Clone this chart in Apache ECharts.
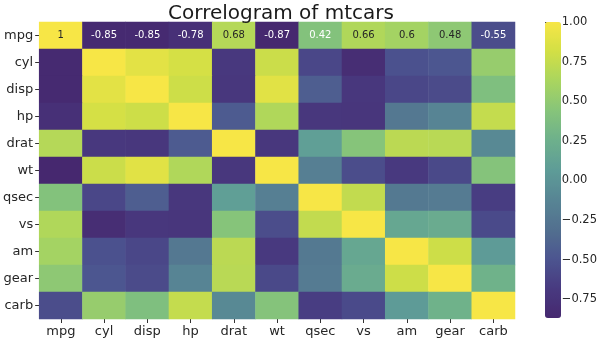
<!DOCTYPE html>
<html><head><meta charset="utf-8">
<script src="https://cdn.jsdelivr.net/npm/echarts@6/dist/echarts.min.js"></script>
<style>html,body{margin:0;padding:0;background:#fff}#c{width:600px;height:340px}</style>
</head><body><div id="c"></div>
<script>
var variables = ['mpg','cyl','disp','hp','drat','wt','qsec','vs','am','gear','carb'];
var corrMatrix = [
  [ 1.00,-0.85,-0.85,-0.78, 0.68,-0.87, 0.42, 0.66, 0.60, 0.48,-0.55],
  [-0.85, 1.00, 0.90, 0.83,-0.70, 0.78,-0.59,-0.81,-0.52,-0.49, 0.53],
  [-0.85, 0.90, 1.00, 0.79,-0.71, 0.89,-0.43,-0.71,-0.59,-0.56, 0.39],
  [-0.78, 0.83, 0.79, 1.00,-0.45, 0.66,-0.71,-0.72,-0.24,-0.13, 0.75],
  [ 0.68,-0.70,-0.71,-0.45, 1.00,-0.71, 0.09, 0.44, 0.71, 0.70,-0.09],
  [-0.87, 0.78, 0.89, 0.66,-0.71, 1.00,-0.17,-0.55,-0.69,-0.58, 0.43],
  [ 0.42,-0.59,-0.43,-0.71, 0.09,-0.17, 1.00, 0.74,-0.23,-0.21,-0.66],
  [ 0.66,-0.81,-0.71,-0.72, 0.44,-0.55, 0.74, 1.00, 0.17, 0.21,-0.57],
  [ 0.60,-0.52,-0.59,-0.24, 0.71,-0.69,-0.23, 0.17, 1.00, 0.79, 0.06],
  [ 0.48,-0.49,-0.56,-0.13, 0.70,-0.58,-0.21, 0.21, 0.79, 1.00, 0.27],
  [-0.55, 0.53, 0.39, 0.75,-0.09, 0.43,-0.66,-0.57, 0.06, 0.27, 1.00]
];
var colorbarTicks = [-0.75,-0.5,-0.25,0,0.25,0.5,0.75,1.0];
var scaleMin = -0.8677, scaleMax = 1.0;
var annotatedRow = 0;

var palette = ['#46286f','#483a80','#4c5590','#52708f','#578594','#5e9c97','#6db08c','#86c47a','#a9d55f','#d2df45','#f7e646'];
var font = 'DejaVu Sans';

var data = [];
for (var r = 0; r < variables.length; r++) {
  for (var c = 0; c < variables.length; c++) {
    var v = corrMatrix[r][c];
    var item = {value: [c, r, v]};
    if (r === annotatedRow) {
      item.label = {show: true, formatter: String(v), color: v > 0.45 ? '#262626' : '#ffffff'};
    }
    data.push(item);
  }
}

var chart = echarts.init(document.getElementById('c'), null, {renderer: 'canvas'});
chart.setOption({
  animation: false,
  backgroundColor: '#ffffff',
  title: {text: 'Correlogram of mtcars', left: 276, top: -1, textAlign: 'center',
    textStyle: {fontFamily: font, fontSize: 20, fontWeight: 'normal', color: '#1a1a1a'}},
  grid: [
    {left: 37, top: 22, width: 478, height: 297},
    {left: 545, top: 22, width: 16, height: 296}
  ],
  xAxis: [
    {type: 'category', gridIndex: 0, data: variables, position: 'bottom',
      axisLine: {show: false}, axisTick: {show: true, alignWithLabel: true, length: 4, lineStyle: {color: '#333'}},
      axisLabel: {fontFamily: font, fontSize: 13, color: '#262626', margin: 6}, splitLine: {show: false}},
    {type: 'value', gridIndex: 1, show: false, min: 0, max: 1}
  ],
  yAxis: [
    {type: 'category', gridIndex: 0, data: variables, inverse: true,
      axisLine: {show: false}, axisTick: {show: true, alignWithLabel: true, length: 4, lineStyle: {color: '#333'}},
      axisLabel: {fontFamily: font, fontSize: 13, color: '#262626', margin: 6}, splitLine: {show: false}},
    {type: 'value', gridIndex: 1, min: scaleMin, max: scaleMax, position: 'right',
      axisLine: {show: false}, splitLine: {show: false},
      axisTick: {show: true, length: 4, lineStyle: {color: '#333'}, customValues: colorbarTicks},
      axisLabel: {fontFamily: font, fontSize: 11.5, color: '#262626', margin: 6, customValues: colorbarTicks,
        formatter: function (v) { return (v < 0 ? '\u2212' : '') + Math.abs(v).toFixed(2); }}}
  ],
  visualMap: {
    type: 'continuous', min: scaleMin, max: scaleMax, seriesIndex: 0, dimension: 2,
    calculable: false, realtime: false, show: true, orient: 'vertical',
    left: 545, top: 22, itemWidth: 16, itemHeight: 296, text: null, showLabel: false,
    padding: 0, inRange: {color: palette}
  },
  series: [
    {type: 'heatmap', xAxisIndex: 0, yAxisIndex: 0, data: data,
      label: {show: false, fontFamily: font, fontSize: 10},
      itemStyle: {borderWidth: 0}, emphasis: {disabled: true}},
    {type: 'line', xAxisIndex: 1, yAxisIndex: 1, data: [], silent: true}
  ]
});
</script></body></html>
